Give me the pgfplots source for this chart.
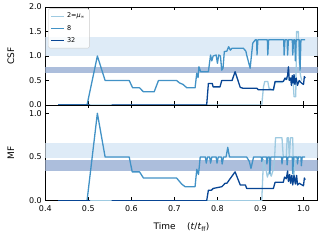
\documentclass[border=0pt]{standalone}
\usepackage{pgfplots}
\pgfplotsset{compat=1.18}
\usepackage{fontspec}
\setmainfont{DejaVu Sans}
\definecolor{colA}{RGB}{158,202,225}
\definecolor{colB}{RGB}{66,146,198}
\definecolor{colC}{RGB}{8,69,148}
\definecolor{bandl}{RGB}{222,235,247}
\definecolor{bandd}{RGB}{172,190,220}
\pgfplotsset{
  myax/.style={
    scale only axis, width=272.4bp,
    xmin=0.4, xmax=1.033,
    xtick={0.4,0.5,0.6,0.7,0.8,0.9,1.0},
    tick align=inside, major tick length=3.5bp,
    tick style={black, line width=0.6bp},
    axis line style={line width=0.7bp},
    ticklabel style={font=\fontsize{8}{9}\selectfont},
    label style={font=\fontsize{9}{10}\selectfont},
    /pgf/number format/.cd, fixed, fixed zerofill, precision=1, assume math mode=true,
    /pgfplots/.cd,
    unbounded coords=jump,
    every axis plot/.append style={line width=1.3bp, line join=round},
    clip=true,
  },
}
\begin{document}
\begin{tikzpicture}
\begin{axis}[myax, at={(0,0)}, anchor=south west, height=95.7bp,
  ymin=0, ymax=1.095, ytick={0,0.5,1.0},
  ylabel={MF}, ylabel style={at={(axis description cs:-0.126,0.5)}, anchor=center},
  xlabel={Time\hspace{1.3em}(\textit{t}/\textit{t}\textsubscript{ff})},
  xlabel style={at={(axis description cs:0.5,-0.275)}, anchor=center},
  xticklabel style={yshift=-1bp},
]
\addplot[draw=none, fill=bandl] coordinates {(0.4,0.485) (1.033,0.485) (1.033,0.66) (0.4,0.66)} -- cycle;
\addplot[draw=none, fill=bandd] coordinates {(0.4,0.34) (1.033,0.34) (1.033,0.46) (0.4,0.46)} -- cycle;
\addplot[colA] coordinates {(0.43,0) (0.903,0) (0.907,0.47) (0.91,0.39) (0.913,0.36) (0.916,0.27) (0.92,0.33) (0.925,0.28) (0.93,0.36) (0.933,0.5) (0.935,0.72) (0.95,0.72) (0.953,0.5) (0.96,0.5) (0.962,0.72) (0.965,0.72) (0.967,0.5) (0.97,0.72) (0.975,0.72) (0.977,0.22) (0.98,0.5) (0.99,0.5)};
\addplot[colB] coordinates {(0.43,0) (0.497,0) (0.521,1.0) (0.539,0.5) (0.595,0.5) (0.602,0.33) (0.619,0.33) (0.628,0.26) (0.705,0.26) (0.717,0.19) (0.725,0.16) (0.748,0.16) (0.752,0.36) (0.756,0.3) (0.76,0.5) (0.772,0.5) (0.774,0.43) (0.777,0.5) (0.782,0.5) (0.784,0.43) (0.787,0.5) (0.797,0.5) (0.799,0.43) (0.802,0.5) (0.809,0.5) (0.811,0.42) (0.814,0.5) (0.82,0.5) (0.824,0.61) (0.828,0.5) (0.868,0.5) (0.874,0.45) (0.878,0.37) (0.884,0.5) (0.902,0.5) (0.903,0.45) (0.905,0.5) (0.914,0.5) (0.915,0.42) (0.917,0.5) (0.921,0.5) (0.922,0.31) (0.924,0.5) (0.949,0.5) (0.95,0.42) (0.952,0.5) (0.961,0.5) (0.962,0.41) (0.964,0.5) (0.974,0.5) (0.975,0.31) (0.977,0.5) (0.985,0.5) (0.986,0.42) (0.988,0.5) (0.994,0.5) (0.995,0.4) (0.997,0.5) (1.004,0.5)};
\addplot[colC] coordinates {(0.43,0) (0.504,0) (0.53,nan) (0.554,0) (0.775,0) (0.779,0.12) (0.786,0.12) (0.79,0.14) (0.8,0.15) (0.81,0.16) (0.818,0.2) (0.822,0.2) (0.841,0.33) (0.853,0.18) (0.865,0.18) (0.868,0.14) (0.93,0.14) (0.934,0.21) (0.953,0.21) (0.956,0.27) (0.96,0.25) (0.963,0.34) (0.965,0.22) (0.968,0.3) (0.97,0.2) (0.973,0.29) (0.975,0.18) (0.978,0.29) (0.981,0.19) (0.984,0.29) (0.986,0.18) (0.99,0.2) (1.0,0.17) (1.002,0.26) (1.004,0.24)};
\end{axis}
\begin{axis}[myax, at={(0,95.7bp)}, anchor=south west, height=98bp,
  ymin=0, ymax=2.0, ytick={0,0.5,1.0,1.5,2.0},
  xticklabels={},
  ylabel={CSF}, ylabel style={at={(axis description cs:-0.126,0.5)}, anchor=center},
  legend style={at={(axis description cs:0.01,0.985)}, anchor=north west,
    font=\fontsize{6.5}{7.5}\selectfont, draw=black!20, rounded corners=1.5bp,
    fill=white, fill opacity=0.8, text opacity=1, inner sep=2.5bp,
    row sep=1.8bp},
  legend cell align=left,
  legend image code/.code={\draw[#1] (0bp,0bp) -- (13bp,0bp);},
]
\addplot[draw=none, fill=bandl, forget plot] coordinates {(0.4,1.0) (1.033,1.0) (1.033,1.38) (0.4,1.38)} -- cycle;
\addplot[draw=none, fill=bandd, forget plot] coordinates {(0.4,0.66) (1.033,0.66) (1.033,0.77) (0.4,0.77)} -- cycle;
\addplot[colA] coordinates {(0.43,0) (0.903,0) (0.907,0.37) (0.91,0.48) (0.917,0.48) (0.92,0.34) (0.93,0.3) (0.934,0.46) (0.95,0.46) (0.955,0.5) (0.96,0.55) (0.97,0.5) (0.975,0.6) (0.978,0.17) (0.982,0.17) (0.984,1.5) (0.988,1.5) (0.99,0.9) (0.993,0.6) (0.996,0.5)};
\addlegendentry{2=\textit{μ}\textsubscript{∞}}
\addplot[colB] coordinates {(0.43,0) (0.497,0) (0.521,1.0) (0.539,0.5) (0.595,0.5) (0.603,0.35) (0.619,0.35) (0.628,0.27) (0.653,0.27) (0.663,0.5) (0.705,0.5) (0.712,0.45) (0.72,0.42) (0.729,0.35) (0.748,0.35) (0.752,0.65) (0.755,0.56) (0.757,0.78) (0.761,0.68) (0.779,0.68) (0.784,1.02) (0.787,0.9) (0.79,1.0) (0.797,1.02) (0.8,0.85) (0.803,1.02) (0.807,1.0) (0.81,0.71) (0.813,0.75) (0.816,1.09) (0.822,1.1) (0.826,1.19) (0.83,1.12) (0.834,1.16) (0.86,1.16) (0.866,1.1) (0.868,1.02) (0.876,0.75) (0.882,1.26) (0.888,1.33) (0.891,1.33) (0.892,1.02) (0.894,1.33) (0.916,1.33) (0.917,1.02) (0.919,1.33) (0.954,1.33) (0.955,1.02) (0.957,1.33) (0.962,1.33) (0.963,1.02) (0.965,1.33) (0.974,1.33) (0.975,1.02) (0.977,1.33) (0.98,1.33) (0.981,0.9) (0.983,1.33) (0.99,1.33) (0.992,0.71) (0.994,1.33) (1.004,1.33)};
\addlegendentry{8}
\addplot[colC] coordinates {(0.43,0) (0.504,0) (0.53,nan) (0.554,0) (0.775,0) (0.779,0.44) (0.788,0.44) (0.79,0.37) (0.806,0.37) (0.81,0.5) (0.834,0.5) (0.841,0.68) (0.853,0.36) (0.86,0.34) (0.892,0.34) (0.895,0.31) (0.93,0.31) (0.934,0.48) (0.953,0.48) (0.957,0.55) (0.96,0.52) (0.963,0.6) (0.965,0.78) (0.967,0.5) (0.97,0.55) (0.972,0.4) (0.974,0.6) (0.976,0.45) (0.978,0.62) (0.98,0.42) (0.983,0.55) (0.986,0.4) (0.99,0.5) (0.995,0.45) (1.0,0.42) (1.002,0.58) (1.004,0.55)};
\addlegendentry{32}
\end{axis}
\pgfresetboundingbox
\path[use as bounding box] (-45.3bp,-41.3bp) rectangle (277.7bp,200.7bp);
\end{tikzpicture}
\end{document}
